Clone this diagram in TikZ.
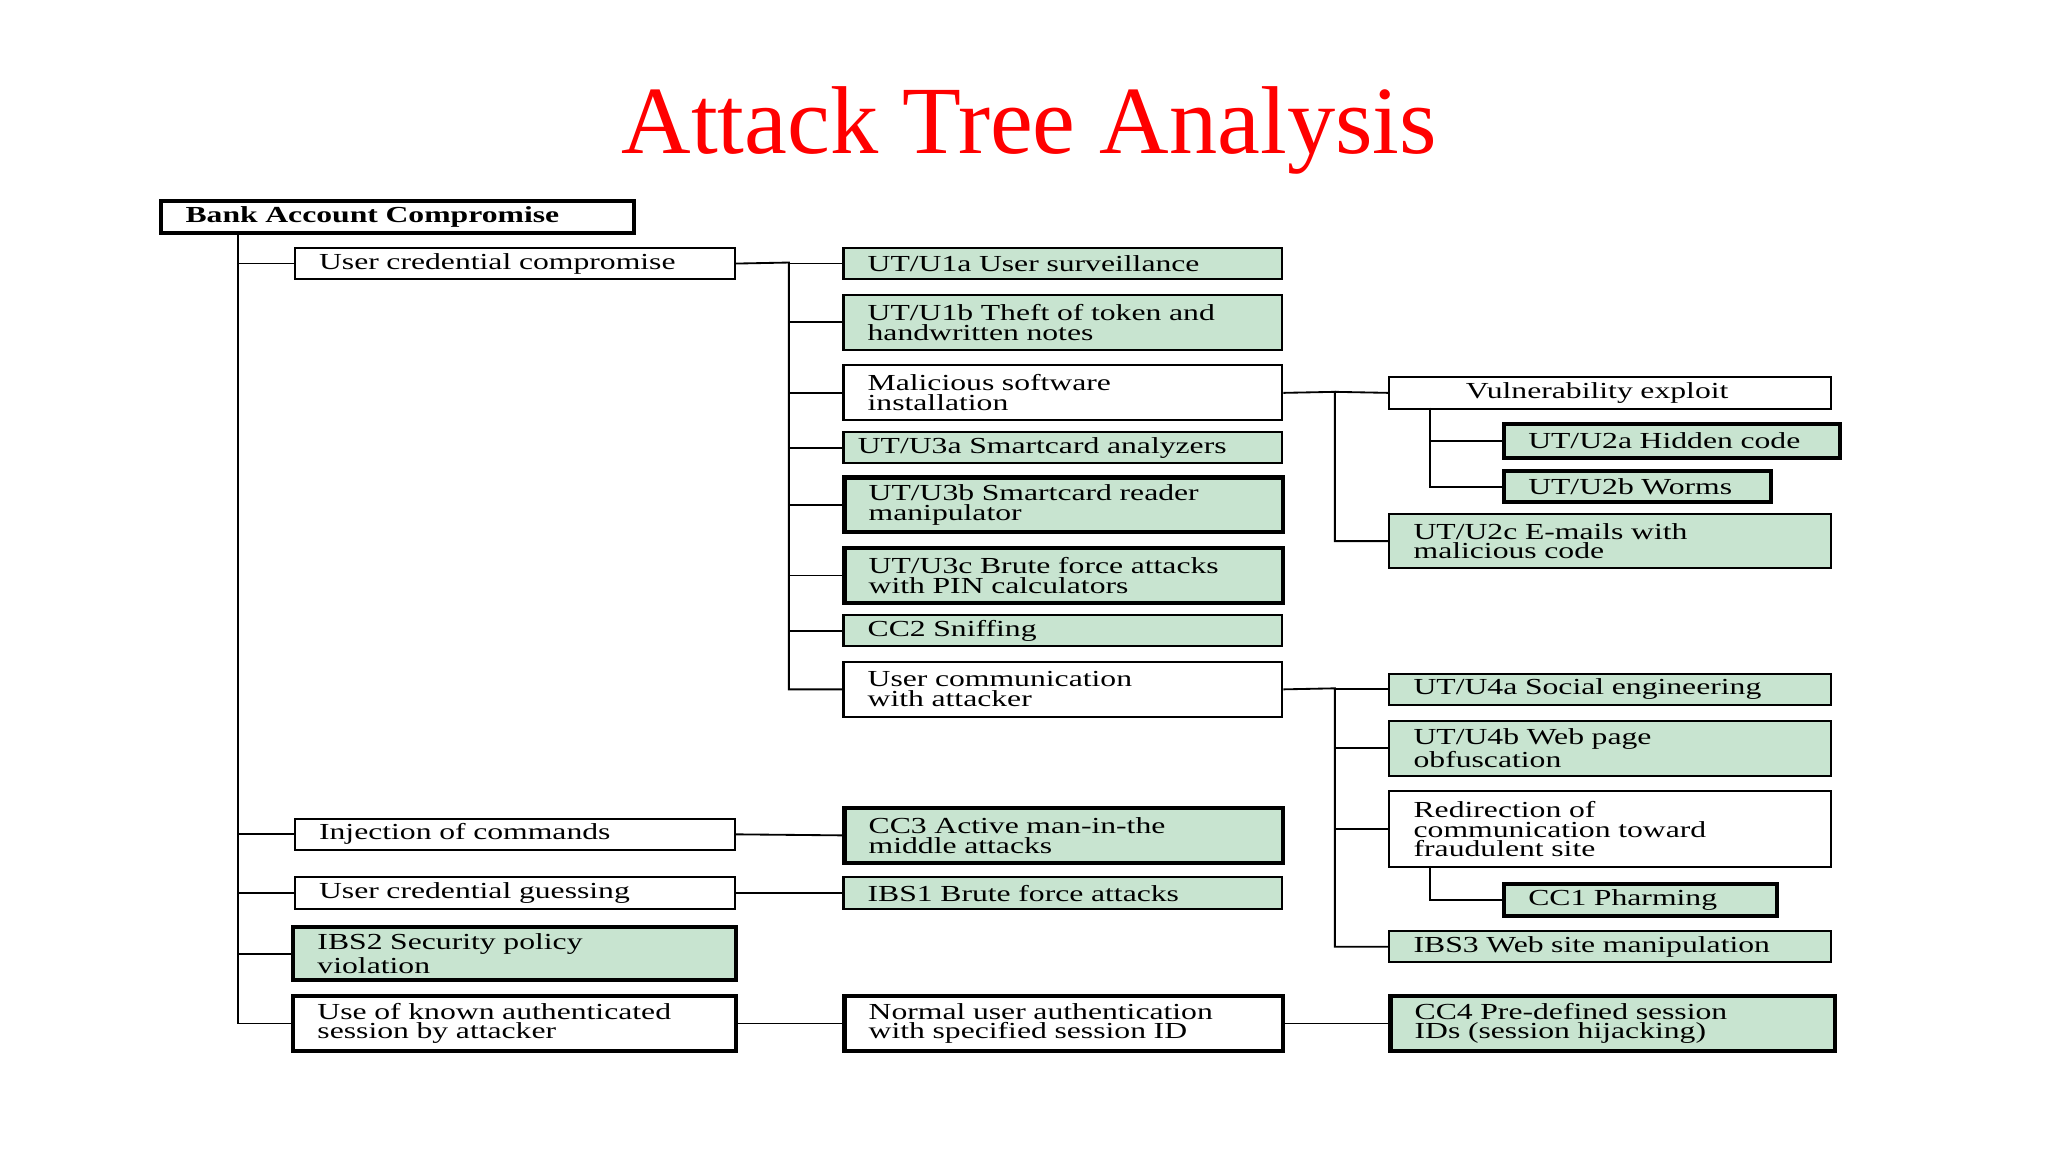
\documentclass[tikz,border=0pt]{standalone}
\usepackage{fontspec}
\setmainfont{Liberation Serif}[FakeStretch=1.38]
\newfontfamily\titlefont{Liberation Serif}
\definecolor{gr}{RGB}{200,228,208}
\begin{document}
\begin{tikzpicture}[x=0.02cm,y=0.02cm,
 w/.style={draw,line width=0.9pt,fill=white},
 g/.style={draw,line width=0.9pt,fill=gr},
 gt/.style={draw,line width=1.8pt,fill=gr},
 wt/.style={draw,line width=1.8pt,fill=white},
 every path/.style={line width=0.8pt}]
\newcommand\bx[7]{\pgfmathsetmacro\bw{(#4-#2)*0.02}\pgfmathsetmacro\bh{(#5-#3)*0.02}\pgfmathsetmacro\tw{\bw-0.3}%
 \node[#6,anchor=north west,minimum width=\bw cm,minimum height=\bh cm,inner sep=0pt,text width=\tw cm,align=left,
 font=\fontsize{10}{8.6}\selectfont] (#1) at (#2,-#3) {\hspace*{0.22cm}\parbox[c]{\tw cm}{\raggedright #7}};}
\useasboundingbox (0,0) rectangle (1568,-882);
\node[font=\titlefont\fontsize{42}{44}\selectfont,text=red] (title) at (788,-100) {Attack Tree Analysis};
\bx{root}{122}{152}{484}{177}{wt}{\textbf{Bank Account Compromise}}
\bx{A}{225}{189}{562}{213}{w}{User credential compromise}
\bx{B}{225}{626}{562}{650}{w}{Injection of commands}
\bx{C}{225}{671}{562}{695}{w}{User credential guessing}
\bx{D}{223}{708}{562}{749}{gt}{IBS2 Security policy\\violation}
\bx{E}{223}{761}{562}{803}{wt}{Use of known authenticated\\session by attacker}
\bx{U1a}{645}{189}{981}{213}{g}{UT/U1a User surveillance}
\bx{U1b}{645}{225}{981}{267}{g}{UT/U1b Theft of token and\\handwritten notes}
\bx{M}{645}{279}{981}{321}{w}{Malicious software\\installation}
\bx{U3a}{645}{330}{981}{354}{g}{\hspace*{-0.15cm}UT/U3a Smartcard analyzers}
\bx{U3b}{645}{364}{981}{406}{gt}{UT/U3b Smartcard reader\\manipulator}
\bx{U3c}{645}{418}{981}{460}{gt}{UT/U3c Brute force attacks\\with PIN calculators}
\bx{CC2}{645}{470}{981}{494}{g}{CC2 Sniffing}
\bx{UC}{645}{506}{981}{548}{w}{User communication\\with attacker}
\bx{CC3}{645}{617}{981}{659}{gt}{CC3 Active man-in-the\\middle attacks}
\bx{IBS1}{645}{671}{981}{695}{g}{IBS1 Brute force attacks}
\bx{N}{645}{761}{981}{803}{wt}{Normal user authentication\\with specified session ID}
\bx{CC4}{1063}{761}{1403}{803}{gt}{CC4 Pre-defined session\\IDs (session hijacking)}
\bx{V}{1063}{288}{1401}{312}{w}{\hspace*{0.8cm}Vulnerability exploit}
\bx{U2a}{1150}{323}{1407}{349}{gt}{UT/U2a Hidden code}
\bx{U2b}{1150}{359}{1354}{383}{gt}{UT/U2b Worms}
\bx{U2c}{1063}{393}{1401}{434}{g}{UT/U2c E-mails with\\malicious code}
\bx{U4a}{1063}{515}{1401}{539}{g}{UT/U4a Social engineering}
\bx{U4b}{1063}{551}{1401}{593}{g}{UT/U4b Web page\\obfuscation}
\bx{R}{1063}{605}{1401}{663}{w}{Redirection of\\communication toward\\fraudulent site}
\bx{CC1}{1150}{675}{1359}{700}{gt}{CC1 Pharming}
\bx{IBS3}{1063}{712}{1401}{736}{g}{IBS3 Web site manipulation}
% left trunk
\coordinate (lt) at (182,-177);
\draw (lt) |- (E.west);
\foreach \n in {A,B,C,D} \draw (lt |- \n.west) -- (\n.west);
% mid trunk
\coordinate (mt) at (604,-201);
\draw (A.east) -- (mt) |- (UC.west);
\foreach \n in {U1a,U1b,M,U3a,U3b,U3c,CC2} \draw (mt |- \n.west) -- (\n.west);
\draw (B.east) -- (CC3.west);
\draw (C.east) -- (IBS1.west);
\draw (E.east) -- (N.west);
\draw (N.east) -- (CC4.west);
% malicious branch
\coordinate (rt1) at (1022,-300);
\draw (M.east) -- (rt1) |- (U2c.west);
\draw (rt1) -- (V.west);
\coordinate (vt) at (1095,-312);
\draw (vt) |- (U2b.west);
\draw (vt |- U2a.west) -- (U2a.west);
% user comm branch
\coordinate (rt2) at (1022,-527);
\draw (UC.east) -- (rt2) |- (IBS3.west);
\foreach \n in {U4a,U4b,R} \draw (rt2 |- \n.west) -- (\n.west);
\coordinate (rr) at (1095,-663);
\draw (rr) |- (CC1.west);
\end{tikzpicture}
\end{document}
